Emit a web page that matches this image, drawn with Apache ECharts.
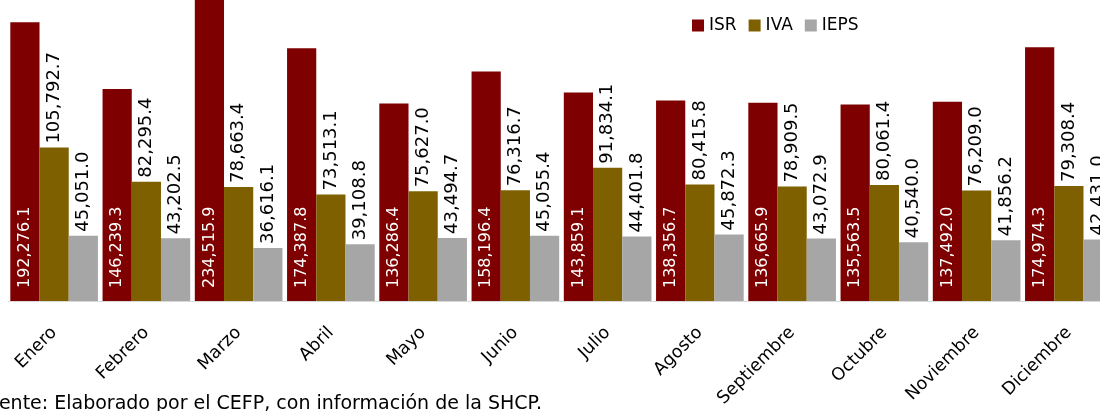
<!DOCTYPE html>
<html>
<head>
<meta charset="utf-8">
<script src="https://cdn.jsdelivr.net/npm/echarts@6/dist/echarts.min.js"></script>
<style>
  html, body { margin: 0; padding: 0; background: #fff; }
  #main { width: 1100px; height: 411px; }
</style>
</head>
<body>
<div id="main"></div>
<script>
    var meses = ['Enero','Febrero','Marzo','Abril','Mayo','Junio','Julio','Agosto','Septiembre','Octubre','Noviembre','Diciembre'];
    var isr = [192276.1,146239.3,234515.9,174387.8,136286.4,158196.4,143859.1,138356.7,136665.9,135563.5,137492.0,174974.3];
    var iva = [105792.7,82295.4,78663.4,73513.1,75627.0,76316.7,91834.1,80415.8,78909.5,80061.4,76209.0,79308.4];
    var ieps = [45051.0,43202.5,36616.1,39108.8,43494.7,45055.4,44401.8,45872.3,43072.9,40540.0,41856.2,42431.0];
    var fuente = 'Fuente: Elaborado por el CEFP, con información de la SHCP.';

    function fmt(v){
        var s = v.toFixed(1).split('.');
        return s[0].replace(/\B(?=(\d{3})+(?!\d))/g, ',') + '.' + s[1];
    }
    var font = 'DejaVu Sans';

    var myChart = echarts.init(document.getElementById('main'));
    var labelTop = {
        show: true,
        position: 'top',
        rotate: 90,
        align: 'left',
        verticalAlign: 'middle',
        distance: 4,
        color: '#000',
        fontFamily: font,
        fontSize: 18,
        formatter: function(p){ return fmt(p.value); }
    };
    var option = {
        backgroundColor: '#fff',
        animation: false,
        legend: {
            left: 692,
            top: 17,
            padding: 0,
            itemWidth: 12,
            itemHeight: 12,
            itemGap: 12,
            icon: 'rect',
            textStyle: { fontFamily: font, fontSize: 17, color: '#000' },
            data: ['ISR','IVA','IEPS']
        },
        grid: {
            left: 8,
            right: -15,
            bottom: 110,
            height: 348,
            outerBoundsMode: 'none',
            containLabel: false
        },
        xAxis: {
            type: 'category',
            data: meses,
            axisLine: { lineStyle: { color: '#d9d9d9', width: 1 } },
            axisTick: { show: false },
            axisLabel: {
                interval: 0,
                rotate: 45,
                margin: 29,
                color: '#000',
                fontFamily: font,
                fontSize: 17.5
            }
        },
        yAxis: {
            type: 'value',
            min: 0,
            max: 240000,
            show: false,
            splitLine: { show: false }
        },
        graphic: [{
            type: 'text',
            left: -23,
            top: 395,
            style: { text: fuente, fontFamily: font, fontSize: 19, fill: '#000' }
        }],
        series: [
            {
                name: 'ISR',
                type: 'bar',
                data: isr,
                barGap: '0%',
                barCategoryGap: '5%',
                itemStyle: { color: '#7f0000' },
                label: {
                    show: true,
                    position: 'insideBottom',
                    rotate: 90,
                    align: 'left',
                    verticalAlign: 'middle',
                    distance: 13,
                    color: '#fff',
                    fontFamily: font,
                    fontSize: 16,
                    formatter: function(p){ return fmt(p.value); }
                }
            },
            {
                name: 'IVA',
                type: 'bar',
                data: iva,
                barGap: '0%',
                barCategoryGap: '5%',
                itemStyle: { color: '#7f6000' },
                label: labelTop
            },
            {
                name: 'IEPS',
                type: 'bar',
                data: ieps,
                barGap: '0%',
                barCategoryGap: '5%',
                itemStyle: { color: '#a6a6a6' },
                label: labelTop
            }
        ]
    };
    myChart.setOption(option);
</script>
</body>
</html>
